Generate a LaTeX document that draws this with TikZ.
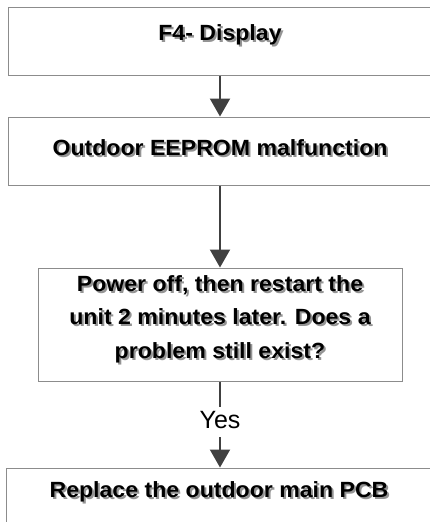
\documentclass[tikz,border=0pt]{standalone}
\usepackage{fontspec}
\setmainfont{Liberation Sans}
\newfontfamily\bxfont[FakeStretch=1.05]{Liberation Sans}
\usetikzlibrary{arrows.meta}
\definecolor{boxgray}{HTML}{8C8C8C}
\definecolor{arrowgray}{HTML}{404040}
\definecolor{shadowgray}{HTML}{949494}
\newcommand\shd[1]{\leavevmode\rlap{\kern2pt\raisebox{-2pt}{\textcolor{shadowgray}{#1}}}#1}
\tikzset{
  box/.style={draw=boxgray, line width=1pt, inner sep=0pt, fill=white,
    font=\bxfont\bfseries\fontsize{22}{26}\selectfont},
  qtext/.style={inner sep=0pt, align=center,
    font=\bxfont\bfseries\fontsize{22}{33.5}\selectfont},
  arr/.style={draw=arrowgray, line width=2pt, -{Triangle[width=20pt,length=18pt]}},
  plain/.style={draw=arrowgray, line width=2pt},
  lbl/.style={inner xsep=0pt, inner ysep=3pt, text height=18pt, text depth=6pt,
    font=\fontsize{25}{30}\selectfont}
}
\begin{document}
\begin{tikzpicture}[x=1pt,y=-1pt]
\useasboundingbox (0,0) rectangle (430,522);
\fill[white] (0,0) rectangle (430,522);
\node[box, minimum width=424pt, minimum height=68pt, text height=16pt, text depth=18pt] (b1) at (220,41) {\shd{F4- Display}};
\node[box, minimum width=424pt, minimum height=68pt, text height=16pt, text depth=8pt] (b2) at (220,151) {\shd{Outdoor EEPROM malfunction}};
\node[box, minimum width=364pt, minimum height=113pt] (b3) at (220,324.5) {};
\node[qtext] (q3) at (220,320) {\shd{Power off, then restart the}\\\shd{unit 2 minutes later. Does a}\\\shd{problem still exist?}};
\node[box, minimum width=426pt, minimum height=68pt, text height=16pt, text depth=26pt] (b4) at (219,502) {\shd{Replace the outdoor main PCB}};
\node[lbl, anchor=base] (yes) at (220,428) {Yes};
\draw[arr] (b1.south) -- (b2.north);
\draw[arr] (b2.south) -- (b3.north);
\draw[plain] (b3.south) -- (yes.north);
\draw[arr] (yes.south) -- (yes.south |- b4.north);
\end{tikzpicture}
\end{document}
